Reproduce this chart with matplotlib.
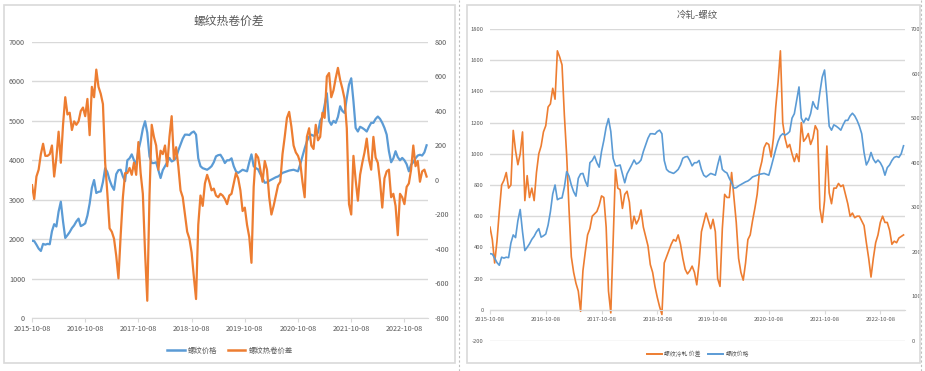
# 螺纹热卷价差 / 冷轧-螺纹：两个双轴折线图并排

import numpy as np
import pandas as pd
import matplotlib
matplotlib.use('Agg')
import matplotlib.pyplot as plt
from matplotlib.patches import Rectangle
from matplotlib.lines import Line2D

plt.rcParams['font.family'] = ['Noto Sans CJK SC', 'DejaVu Sans']
plt.rcParams['axes.unicode_minus'] = False

# 半月采样
inicio = pd.Timestamp('2015-10-08')
datas = inicio + pd.to_timedelta(np.arange(179) * 365.25 / 24, unit='D')

# 螺纹价格
preco_rebar = [
    1960, 1950, 1860, 1760, 1700, 1880, 1860, 1880, 1870, 2200, 2380, 2320, 2700, 2950, 2450, 2030, 2100, 2180, 2280, 2350, 2450, 2520, 2330, 2360,
    2400, 2600, 2900, 3300, 3500, 3170, 3200, 3210, 3450, 3800, 3700, 3500, 3350, 3250, 3650, 3750, 3760, 3590, 3470, 4000, 4050, 4150, 4000, 3900,
    4250, 4500, 4800, 4990, 4700, 4100, 3930, 3930, 3950, 3750, 3550, 3750, 3850, 3950, 4060, 3970, 4000, 4060, 4250, 4400, 4550, 4650, 4650, 4640,
    4700, 4730, 4650, 4050, 3850, 3800, 3780, 3760, 3800, 3850, 3950, 4100, 4130, 4140, 4050, 3930, 4000, 4000, 4050, 3850, 3720, 3680, 3720, 3760,
    3740, 3720, 3950, 4150, 3850, 3800, 3770, 3650, 3550, 3430, 3440, 3480, 3510, 3540, 3570, 3590, 3630, 3680, 3700, 3720, 3740, 3750, 3760, 3740,
    3720, 3900, 4100, 4300, 4480, 4600, 4650, 4620, 4650, 4700, 5000, 5100, 5400, 5700, 5000, 4900, 5000, 4950, 5100, 5370, 5250, 5200, 5580, 5920,
    6080, 5500, 4820, 4730, 4850, 4820, 4780, 4730, 4850, 4950, 4950, 5050, 5110, 5050, 4950, 4820, 4650, 4230, 3950, 4050, 4230, 4080, 4000, 4060,
    4000, 3900, 3720, 3890, 3950, 4050, 4120, 4140, 4120, 4200, 4380,
]

# 螺纹热卷价差
spread_hc = [
    -30, -110, 20, 60, 150, 210, 140, 140, 150, 200, 20, 130, 280, 100, 320, 480, 380, 390, 290, 340, 320, 340, 400, 420,
    370, 470, 260, 540, 480, 640, 540, 500, 440, 100, -80, -280, -300, -340, -440, -570, -320, -100, 40, 40, 70, 30, 100, 30,
    220, 40, -80, -420, -700, -90, 320, 250, 200, 60, 170, 150, 200, 80, 250, 370, 120, 190, 80, -60, -100, -200, -300, -340,
    -420, -560, -690, -260, -90, -150, -20, 30, -10, -60, -50, -90, -100, -80, -90, -110, -140, -90, -80, -20, 40, 10, -60, -180,
    -160, -260, -330, -480, -40, 150, 130, 60, -10, 110, 60, -100, -200, -150, -90, -30, -10, 150, 250, 360, 395, 310, 200, 160,
    140, 100, -10, -100, 250, 300, 200, 180, 320, 230, 250, 390, 360, 600, 620, 480, 520, 590, 650, 580, 530, 470, 300, -140,
    -200, 140, 0, -120, 30, 100, 160, 240, 120, 60, 250, 130, 100, -10, -160, 10, 50, 60, -100, -80, -150, -320, -80, -100,
    -140, -40, -20, 60, 200, 80, 110, -10, 50, 60, 20,
]

# 螺纹冷轧价差
spread_cr = [
    530, 450, 300, 440, 630, 800, 830, 880, 780, 800, 1150, 1020, 930, 1000, 1140, 700, 860, 720, 780, 700, 880, 1000, 1050, 1140,
    1180, 1300, 1320, 1420, 1350, 1660, 1620, 1570, 1250, 990, 650, 340, 240, 170, 120, -10, 250, 370, 480, 520, 600, 615, 630, 670,
    730, 720, 530, 120, -20, 450, 900, 780, 770, 650, 740, 760, 690, 520, 600, 550, 580, 640, 530, 470, 410, 290, 240, 150,
    80, 20, -30, 300, 340, 380, 420, 450, 440, 480, 420, 330, 260, 230, 250, 280, 240, 160, 300, 500, 560, 620, 570, 520,
    580, 500, 200, 150, 520, 740, 720, 720, 880, 720, 560, 330, 240, 190, 300, 450, 480, 570, 650, 740, 890, 950, 1040, 1070,
    1060, 980, 1100, 1300, 1460, 1660, 1200, 1100, 1040, 1060, 1000, 950, 1000, 950, 1200, 1080, 1100, 1130, 1060, 1100, 1180, 1150, 650, 560,
    700, 1050, 750, 680, 780, 780, 810, 790, 800, 740, 680, 600, 620, 590, 600, 600, 570, 540, 430, 330, 210, 330, 430, 480,
    560, 600, 560, 560, 510, 420, 440, 430, 460, 470, 480,
]

anos_ticks = [inicio + pd.DateOffset(years=k) for k in range(8)]
labels_ticks = [d.strftime('%Y-%m-%d') for d in anos_ticks]
fim = inicio + pd.Timedelta(days=7.443 * 365.25)

azul = '#5B9BD5'
laranja = '#ED7D31'
cinza_txt = '#595959'
cinza_linha = '#d9d9d9'

W, H = 925, 371
fig = plt.figure(figsize=(W / 100, H / 100), dpi=100)


def caixa(x0, y0, x1, y1):
    return [x0 / W, 1 - y1 / H, (x1 - x0) / W, (y1 - y0) / H]


# molduras dos dois gráficos
for x0, x1 in [(4, 455), (467, 920)]:
    fig.add_artist(Rectangle((x0 / W, 1 - 363 / H), (x1 - x0) / W, 358 / H,
                             transform=fig.transFigure, fill=False, ec=cinza_linha, lw=1.2))


def estilo(ax, ax2, fs, pad_y):
    for s in ax.spines.values():
        s.set_visible(False)
    for s in ax2.spines.values():
        s.set_visible(False)
    ax.spines['bottom'].set_visible(True)
    ax.spines['bottom'].set_color(cinza_linha)
    ax.grid(axis='y', color=cinza_linha, lw=1)
    ax.set_axisbelow(True)
    ax.tick_params(axis='y', length=0, labelsize=fs, labelcolor=cinza_txt, pad=pad_y)
    ax2.tick_params(axis='y', length=0, labelsize=fs, labelcolor=cinza_txt, pad=pad_y)
    ax.tick_params(axis='x', length=3, color=cinza_linha, labelsize=fs, labelcolor=cinza_txt, pad=2)
    ax.set_xticks(anos_ticks)
    ax.set_xticklabels(labels_ticks)
    ax.set_xlim(inicio, fim)


# ---- esquerda: 螺纹热卷价差
ax1 = fig.add_axes(caixa(32, 42, 428, 318))
ax1.plot(datas, preco_rebar, color=azul, lw=1.6)
ax1.set_ylim(0, 7000)
ax1.set_yticks(range(0, 7001, 1000))
ax1b = ax1.twinx()
ax1b.plot(datas, spread_hc, color=laranja, lw=1.6)
ax1b.set_ylim(-800, 800)
ax1b.set_yticks(range(-800, 801, 200))
estilo(ax1, ax1b, 5.2, 5)
fig.text(229 / W, 1 - 21 / H, '螺纹热卷价差', ha='center', va='center', fontsize=8.5, color=cinza_txt)
ax1.legend([Line2D([], [], color=azul, lw=1.8), Line2D([], [], color=laranja, lw=1.8)],
           ['螺纹价格', '螺纹热卷价差'], loc='center', bbox_to_anchor=(230 / W, 1 - 351 / H),
           bbox_transform=fig.transFigure, ncol=2, frameon=False, fontsize=5.3,
           handlelength=2.4, handletextpad=0.4, columnspacing=1.4, labelcolor=cinza_txt)

# ---- direita: 冷轧-螺纹
ax2 = fig.add_axes(caixa(490, 29, 905, 341))
ax2.plot(datas, spread_cr, color=laranja, lw=1.2)
ax2.set_ylim(-200, 1800)
ax2.set_yticks(range(-200, 1801, 200))
ax2b = ax2.twinx()
ax2b.plot(datas, preco_rebar, color=azul, lw=1.2)
ax2b.set_ylim(0, 7000)
ax2b.set_yticks(range(0, 7001, 1000))
estilo(ax2, ax2b, 4.2, 4.5)
ax2.spines['bottom'].set_position(('data', 0))
fig.text(697 / W, 1 - 15 / H, '冷轧-螺纹', ha='center', va='center', fontsize=6.8, color=cinza_txt)
ax2.legend([Line2D([], [], color=laranja, lw=1.4), Line2D([], [], color=azul, lw=1.4)],
           ['螺纹冷轧 价差', '螺纹价格'], loc='center', bbox_to_anchor=(698 / W, 1 - 354 / H),
           bbox_transform=fig.transFigure, ncol=2, frameon=False, fontsize=4.2,
           handlelength=2.6, handletextpad=0.4, columnspacing=1.2, labelcolor=cinza_txt)

# borda direita cortada + linhas tracejadas do recorte
fig.add_artist(Rectangle((921 / W, 0), 4 / W, 1, transform=fig.transFigure,
                         fc='white', ec='none', zorder=20))
for xl in (459, 920.5):
    fig.add_artist(Line2D([xl / W, xl / W], [0, 1], transform=fig.transFigure,
                          color='#bfbfbf', lw=0.8, ls=(0, (2, 2)), zorder=21))

fig.savefig('out.png', dpi=100)
